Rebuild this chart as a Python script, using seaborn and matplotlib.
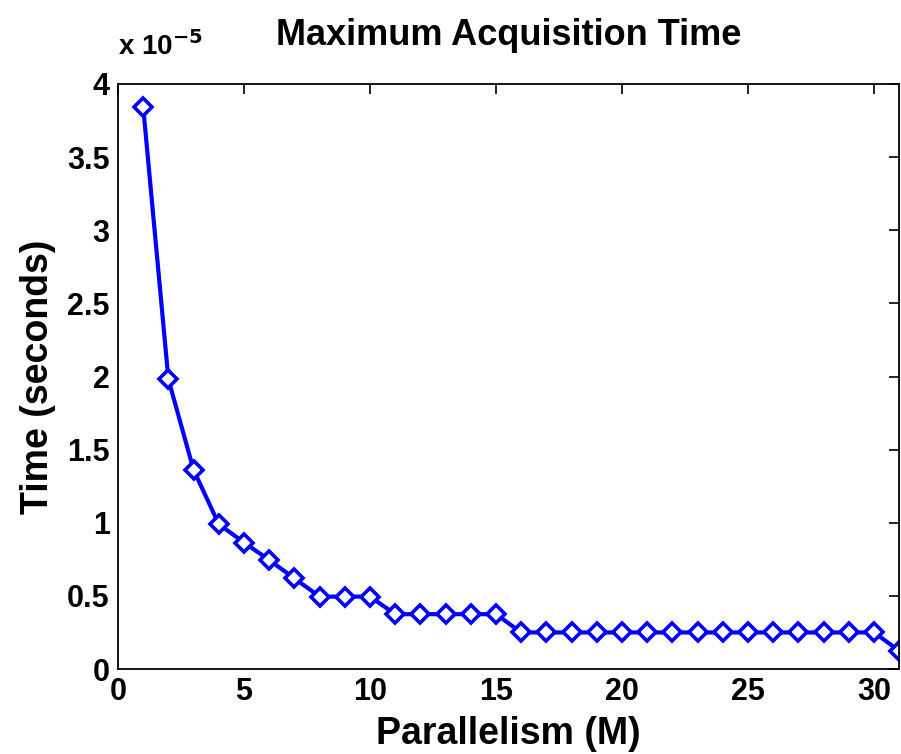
import seaborn as sns
import matplotlib
matplotlib.use("Agg")
import matplotlib.pyplot as plt
from matplotlib.ticker import FuncFormatter

# Data (time in units of 1e-5 s)
parallelism = list(range(1, 32))
time_e5 = [3.84, 1.98, 1.36, 0.99, 0.865, 0.745, 0.62, 0.495, 0.495, 0.495,
           0.375, 0.375, 0.375, 0.375, 0.375,
           0.25, 0.25, 0.25, 0.25, 0.25, 0.25, 0.25, 0.25, 0.25, 0.25,
           0.25, 0.25, 0.25, 0.25, 0.25, 0.125]
scale = 1e-5
time_s = [v * scale for v in time_e5]

sns.set_style("white")
plt.rcParams['font.family'] = ['Liberation Sans', 'DejaVu Sans']
plt.rcParams['font.weight'] = 'bold'
plt.rcParams['text.color'] = 'black'
plt.rcParams['axes.labelcolor'] = 'black'

fig = plt.figure(figsize=(9.01, 7.54), dpi=100)
ax = fig.add_axes([0.131, 0.1127, 0.867, 0.7759])

sns.lineplot(x=parallelism, y=time_s, ax=ax, color=(0, 0, 1), linewidth=3,
             marker='D', markersize=9, markerfacecolor='white',
             markeredgecolor=(0, 0, 1), markeredgewidth=2.6, clip_on=True)

ax.set_xlim(0, 31)
ax.set_ylim(0, 4 * scale)
ax.set_xticks([0, 5, 10, 15, 20, 25, 30])
ax.set_yticks([i * 0.5 * scale for i in range(9)])
ax.yaxis.set_major_formatter(FuncFormatter(lambda v, p: '%g' % round(v / scale, 4)))

ax.tick_params(direction='in', length=7, width=1.2, top=True, right=True,
               labelsize=22, pad=6, colors='black')
for lab in ax.get_xticklabels() + ax.get_yticklabels():
    lab.set_fontweight('bold')
for s in ax.spines.values():
    s.set_color('black')
    s.set_linewidth(1.3)

ax.set_xlabel('Parallelism (M)', fontsize=27, fontweight='bold', labelpad=6,
              color='black')
ax.set_ylabel('Time (seconds)', fontsize=27, fontweight='bold', labelpad=8,
              color='black')
ax.set_title('Maximum Acquisition Time', fontsize=26, fontweight='bold', pad=28,
             color='black')
ax.text(0.0, 1.04, 'x 10$^{-5}$', transform=ax.transAxes, fontsize=20,
        fontweight='bold', ha='left', va='bottom', color='black')

fig.savefig('out.png', dpi=100)
